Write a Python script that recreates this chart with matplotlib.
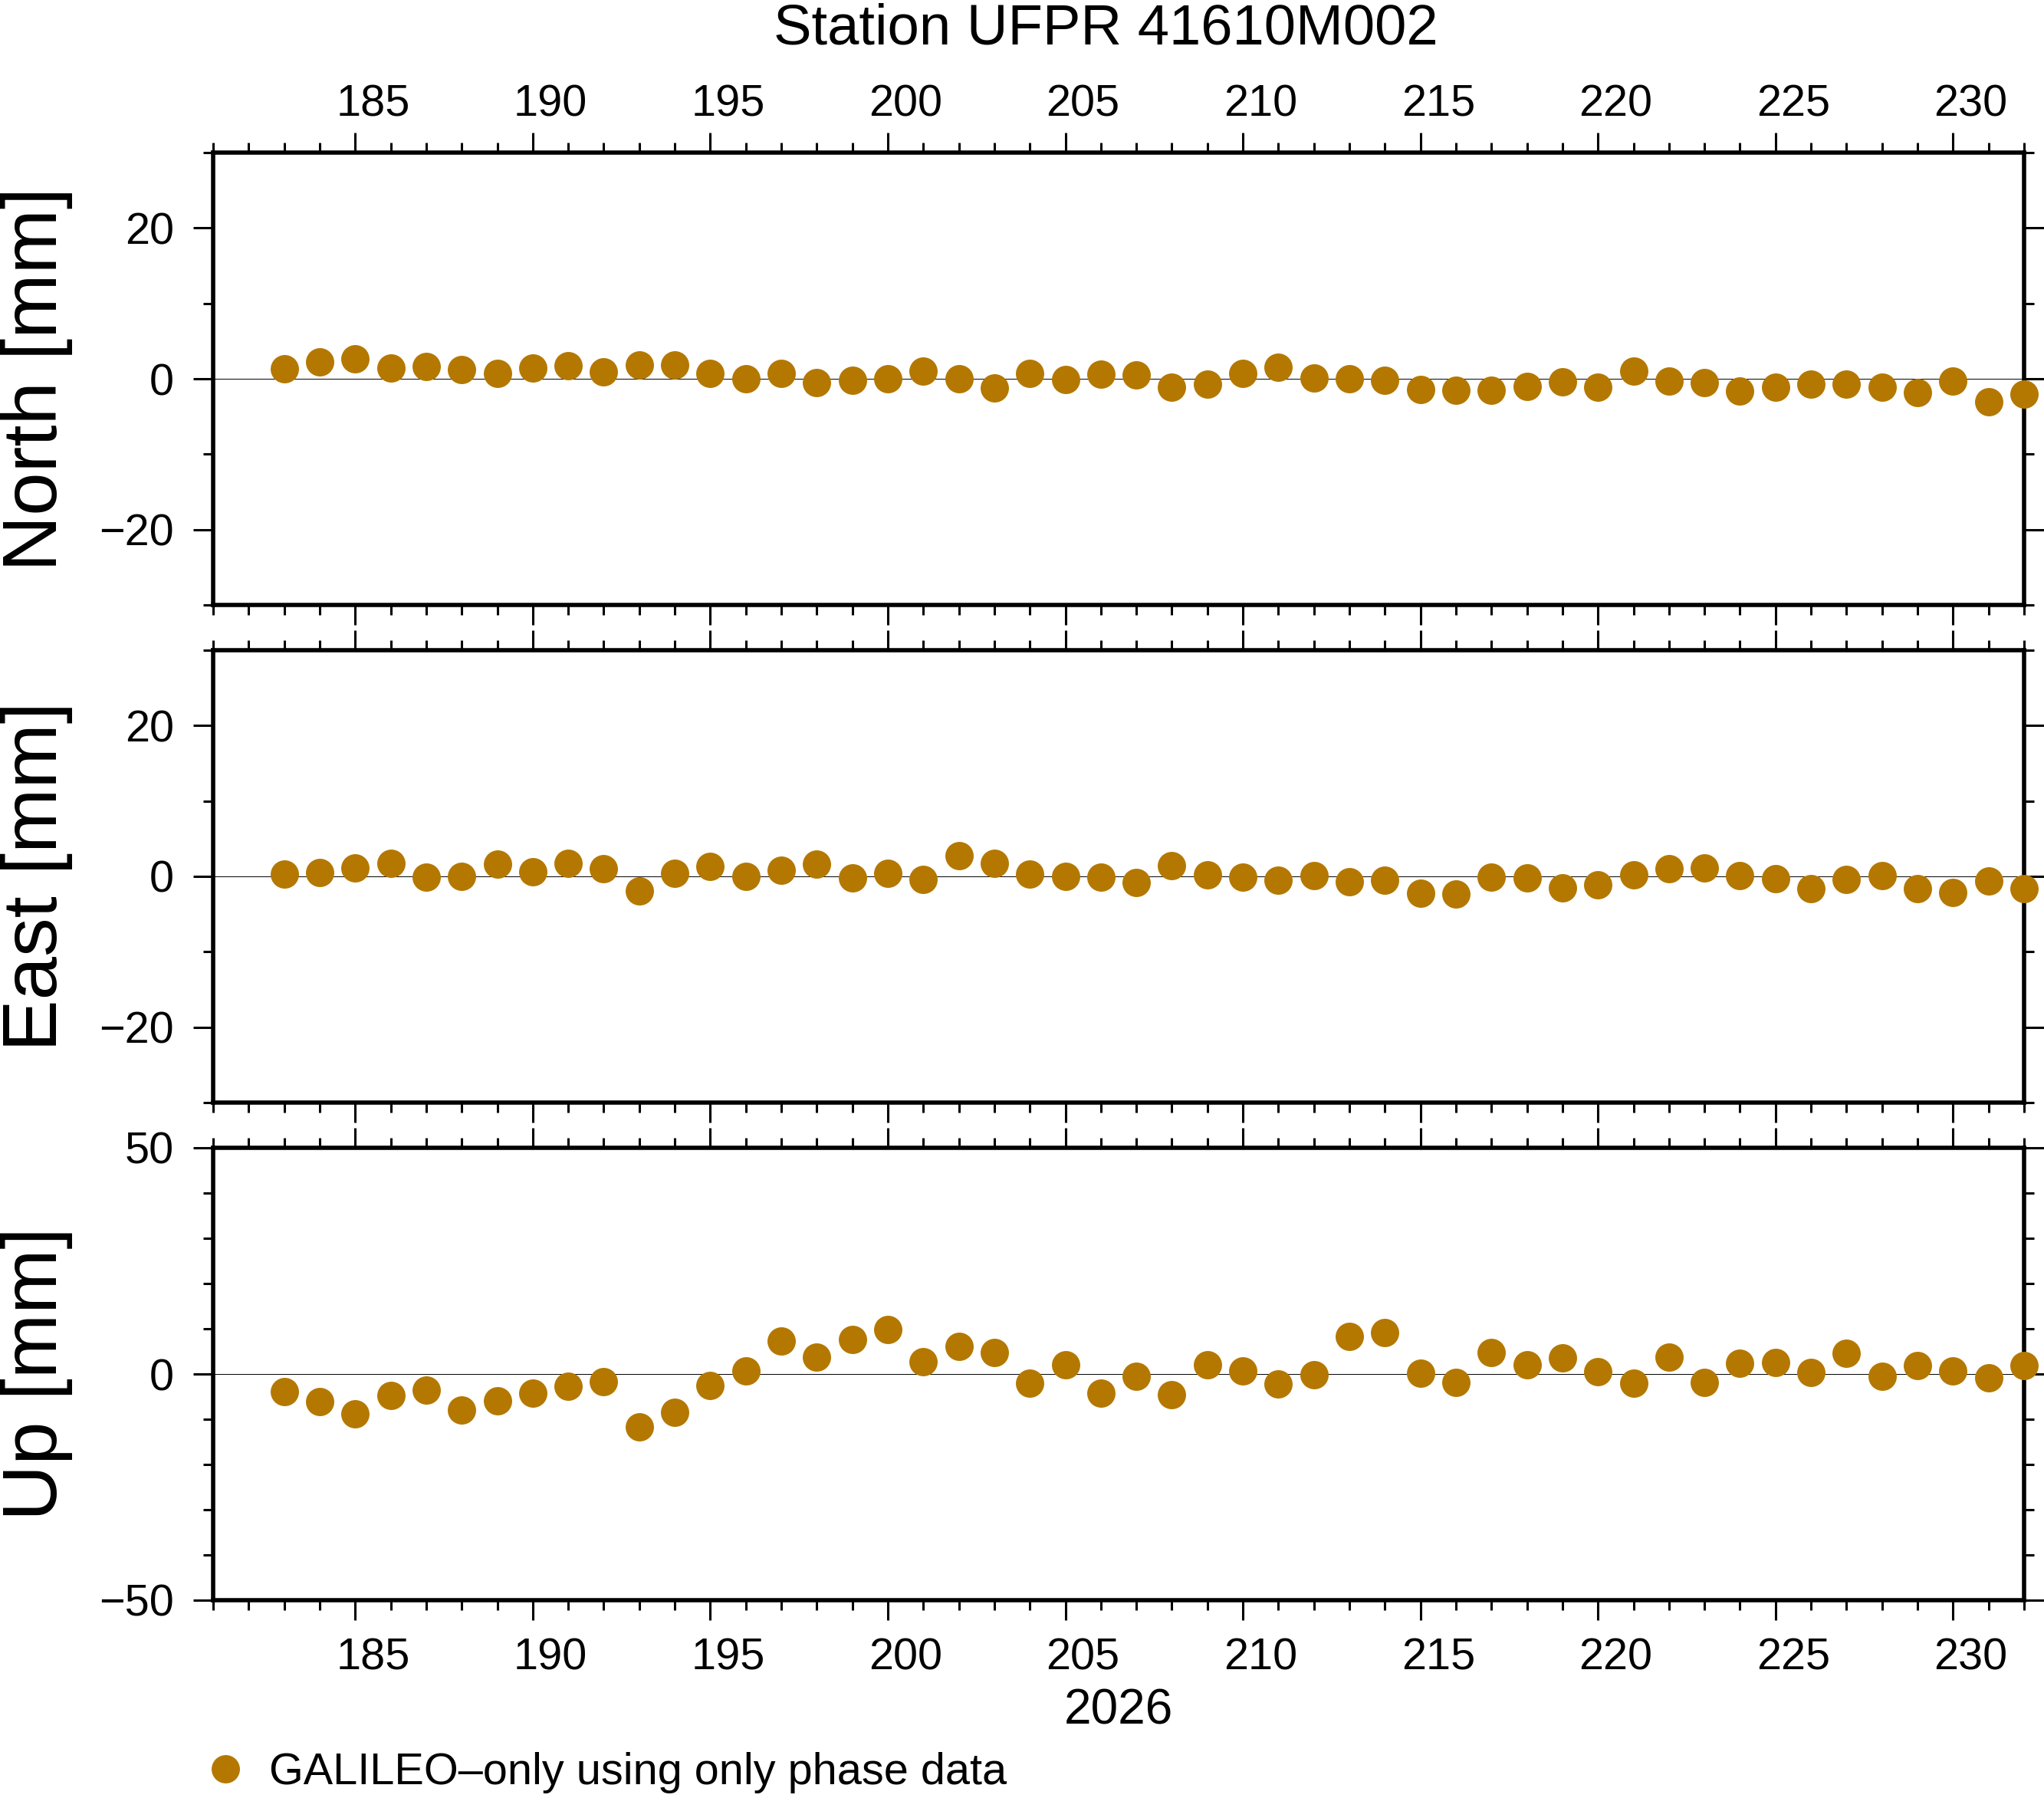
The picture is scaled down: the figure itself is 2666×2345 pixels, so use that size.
import matplotlib
matplotlib.use('Agg')
import matplotlib.pyplot as plt
import matplotlib.transforms as mtransforms
from matplotlib.ticker import MultipleLocator
import numpy as np

plt.rcParams['font.family'] = ['Liberation Sans', 'DejaVu Sans']

# dias do ano (2026)
days = np.arange(183, 233)

north = [1.3, 2.2, 2.6, 1.4, 1.6, 1.2, 0.7, 1.4, 1.7, 0.9,
         1.8, 1.8, 0.7, 0.0, 0.7, -0.5, -0.2, 0.0, 1.0, 0.0,
         -1.2, 0.7, -0.1, 0.6, 0.5, -1.1, -0.7, 0.7, 1.5, 0.1,
         0.0, -0.2, -1.4, -1.5, -1.5, -1.0, -0.4, -1.1, 1.0, -0.3,
         -0.5, -1.6, -1.1, -0.7, -0.7, -1.1, -1.8, -0.3, -3.0, -2.0]

east = [0.3, 0.5, 1.1, 1.7, -0.1, 0.0, 1.6, 0.6, 1.7, 1.0,
        -1.9, 0.4, 1.3, 0.0, 0.8, 1.6, -0.2, 0.4, -0.4, 2.7,
        1.7, 0.3, 0.0, -0.1, -0.8, 1.4, 0.2, -0.1, -0.5, 0.1,
        -0.7, -0.5, -2.2, -2.3, -0.1, -0.2, -1.5, -1.1, 0.2, 1.0,
        1.1, 0.1, -0.3, -1.6, -0.4, 0.1, -1.6, -2.1, -0.6, -1.6]

up = [-3.9, -6.1, -8.8, -4.8, -3.6, -8.0, -5.9, -4.2, -2.7, -1.7,
      -11.7, -8.5, -2.5, 0.7, 7.3, 3.7, 7.6, 9.9, 2.7, 6.1,
      4.8, -2.0, 2.0, -4.2, -0.5, -4.6, 2.0, 0.7, -2.2, -0.2,
      8.3, 9.2, 0.2, -1.9, 4.8, 2.0, 3.6, 0.5, -2.0, 3.7,
      -1.9, 2.4, 2.5, 0.3, 4.6, -0.5, 1.9, 0.7, -0.8, 1.9]

componentes = ["North [mm]", "East [mm]", "Up [mm]"]
series = [north, east, up]
limites = [30, 30, 50]
passo_major = [20, 20, 50]

cor = '#b47800'
W, H = 2666, 2345
fig = plt.figure(figsize=(W / 100, H / 100), dpi=100)

left = 278 / W
width = (2640 - 278) / W
tops = [199, 848, 1497]
alt = 590

axes = []
for i in range(3):
    ax = fig.add_axes([left, 1 - (tops[i] + alt) / H, width, alt / H])
    ax.plot(days, series[i], 'o', ms=26.6, color=cor, mec='none',
            clip_on=False, zorder=5, label="GALILEO\u2013only using only phase data")
    ax.axhline(0, color='black', lw=0.7, zorder=1)
    ax.set_xlim(181, 232)
    ax.set_ylim(-limites[i], limites[i])
    ax.xaxis.set_major_locator(MultipleLocator(5))
    ax.xaxis.set_minor_locator(MultipleLocator(1))
    ax.yaxis.set_major_locator(MultipleLocator(passo_major[i]))
    ax.yaxis.set_minor_locator(MultipleLocator(10))
    for s in ax.spines.values():
        s.set_linewidth(4)
    ax.tick_params(which='both', direction='out', top=True, right=True,
                   width=2.2, labelbottom=False, labelsize=41.5)
    ax.tick_params(which='major', length=18.7)
    ax.tick_params(which='minor', length=9.4)
    ax.tick_params(axis='y', which='major', pad=18)
    fig.text(48 / W, 1 - (tops[i] + alt / 2) / H, componentes[i],
             rotation=90, ha='center', va='center', fontsize=73)
    axes.append(ax)

# rotulos no meio do dia
dx = 0.5 * (width * W / 100) / 51
desloc = mtransforms.ScaledTranslation(dx, 0, fig.dpi_scale_trans)

axes[0].tick_params(axis='x', which='major', labeltop=True, pad=7)
axes[2].tick_params(axis='x', which='major', labelbottom=True, pad=16)
for ax in (axes[0], axes[2]):
    for lab in ax.get_xticklabels():
        lab.set_transform(lab.get_transform() + desloc)

axes[2].set_xlabel("2026", fontsize=46, labelpad=9)

fig.text(1442 / W, 1 - 57 / H, "Station UFPR 41610M002",
         ha='center', va='baseline', fontsize=53.5)

fig.legend(handles=axes[0].get_lines()[:1], loc='center left',
           bbox_to_anchor=(265 / W, 1 - 2312 / H), frameon=False,
           fontsize=41.5, handlelength=1.0, handletextpad=0.5,
           borderpad=0, borderaxespad=0)

fig.savefig("out.png", dpi=100)
